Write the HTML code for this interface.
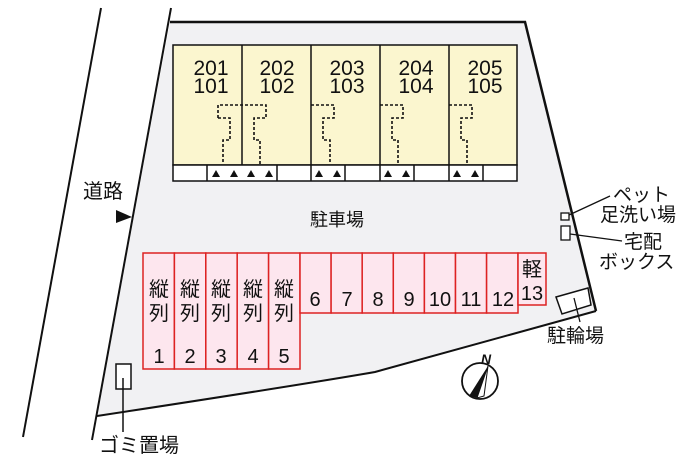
<!DOCTYPE html>
<html><head><meta charset="utf-8"><style>
html,body{margin:0;padding:0;background:#fff;width:700px;height:466px;overflow:hidden}
svg text{font-family:"Liberation Sans","Noto Sans CJK JP",sans-serif;fill:#111}
</style></head><body>
<svg width="700" height="466" viewBox="0 0 700 466" xmlns="http://www.w3.org/2000/svg">
<path d="M170,22 L525,22 L596,311 L375,372 Q300,385 97,416 Z" fill="#f1f1f3" stroke="none"/>
<path d="M170,22 L525,22 L596,311" fill="none" stroke="#111" stroke-width="2.5"/>
<path d="M596,311 L375,372 Q300,385 97,416" fill="none" stroke="#111" stroke-width="2"/>
<line x1="171" y1="8" x2="92" y2="440" stroke="#111" stroke-width="2"/>
<line x1="101" y1="8" x2="23" y2="437" stroke="#111" stroke-width="2"/>
<text x="83" y="198" font-size="20">道路</text>
<polygon points="116,210 132,217 116,223" fill="#111"/>
<rect x="173" y="45" width="344" height="120" fill="#fbf6cf" stroke="#111" stroke-width="1.5"/>
<rect x="173" y="165" width="344" height="16" fill="#fff" stroke="#111" stroke-width="1.5"/>
<g stroke="#111" stroke-width="1.5">
<line x1="242" y1="45" x2="242" y2="165"/><line x1="311" y1="45" x2="311" y2="165"/>
<line x1="380" y1="45" x2="380" y2="165"/><line x1="449" y1="45" x2="449" y2="165"/>
<line x1="207" y1="165" x2="207" y2="181"/><line x1="277" y1="165" x2="277" y2="181"/>
<line x1="311" y1="165" x2="311" y2="181"/><line x1="345" y1="165" x2="345" y2="181"/>
<line x1="380" y1="165" x2="380" y2="181"/><line x1="414" y1="165" x2="414" y2="181"/>
<line x1="449" y1="165" x2="449" y2="181"/><line x1="483" y1="165" x2="483" y2="181"/>
</g>
<g fill="#111">
<polygon points="212,177 216,170 220,177"/><polygon points="230,177 234,170 238,177"/>
<polygon points="247,177 251,170 255,177"/><polygon points="265,177 269,170 273,177"/>
<polygon points="315,177 319,170 323,177"/><polygon points="333,177 337,170 341,177"/>
<polygon points="384,177 388,170 392,177"/><polygon points="402,177 406,170 410,177"/>
<polygon points="453,177 457,170 461,177"/><polygon points="471,177 475,170 479,177"/>
</g>
<g font-size="21" text-anchor="middle">
<text x="211" y="75">201</text><text x="211" y="93">101</text>
<text x="277" y="75">202</text><text x="277" y="93">102</text>
<text x="347" y="75">203</text><text x="347" y="93">103</text>
<text x="416" y="75">204</text><text x="416" y="93">104</text>
<text x="485" y="75">205</text><text x="485" y="93">105</text>
</g>
<g fill="none" stroke="#111" stroke-width="1.6" stroke-dasharray="3,2">
<path d="M218,118 V105 H266 V118 H254 V140 H260 V164"/>
<path d="M218,118 H230 V140 H223 V164"/>
<path d="M311,105 H334 V118 H323 V140 H330 V164"/>
<path d="M380,105 H403 V118 H392 V140 H398 V164"/>
<path d="M449,105 H472 V118 H461 V140 H467 V164"/>
</g>
<text x="310" y="226" font-size="18">駐車場</text>
<g fill="#fde6ee" stroke="#d22" stroke-width="1.5">
<rect x="143" y="253" width="31.4" height="116"/><rect x="174.4" y="253" width="31.4" height="116"/>
<rect x="205.8" y="253" width="31.4" height="116"/><rect x="237.2" y="253" width="31.4" height="116"/>
<rect x="268.6" y="253" width="31.4" height="116"/>
<rect x="300" y="253" width="31.1" height="60"/><rect x="331.1" y="253" width="31.1" height="60"/>
<rect x="362.2" y="253" width="31.1" height="60"/><rect x="393.3" y="253" width="31.1" height="60"/>
<rect x="424.4" y="253" width="31.1" height="60"/><rect x="455.5" y="253" width="31.1" height="60"/>
<rect x="486.6" y="253" width="31.4" height="60"/>
<rect x="518" y="253" width="28" height="52"/>
</g>
<g font-size="20" text-anchor="middle">
<text x="159" y="296">縦</text><text x="159" y="320">列</text><text x="159" y="363">1</text>
<text x="190" y="296">縦</text><text x="190" y="320">列</text><text x="190" y="363">2</text>
<text x="221" y="296">縦</text><text x="221" y="320">列</text><text x="221" y="363">3</text>
<text x="253" y="296">縦</text><text x="253" y="320">列</text><text x="253" y="363">4</text>
<text x="284" y="296">縦</text><text x="284" y="320">列</text><text x="284" y="363">5</text>
<text x="315" y="306">6</text><text x="347" y="306">7</text><text x="378" y="306">8</text>
<text x="409" y="306">9</text><text x="440" y="306">10</text><text x="471" y="306">11</text>
<text x="503" y="306">12</text>
<text x="532" y="276">軽</text><text x="532" y="300">13</text>
</g>
<rect x="561" y="213" width="8" height="7" fill="#fff" stroke="#111" stroke-width="1.3"/>
<rect x="561" y="226" width="9" height="14" fill="#fff" stroke="#111" stroke-width="1.3"/>
<line x1="569" y1="215" x2="610" y2="196" stroke="#111" stroke-width="1.3"/>
<line x1="570" y1="234" x2="622" y2="241" stroke="#111" stroke-width="1.3"/>
<text x="613" y="201" font-size="19">ペット</text>
<text x="600" y="221" font-size="19">足洗い場</text>
<text x="624" y="248" font-size="19">宅配</text>
<text x="599" y="268" font-size="19">ボックス</text>
<polygon points="556,297 588,288 591,305 562,314" fill="#fff" stroke="#111" stroke-width="1.5"/>
<line x1="574" y1="298" x2="580" y2="322" stroke="#111" stroke-width="1.3"/>
<text x="547" y="342" font-size="19">駐輪場</text>
<rect x="116" y="364" width="15" height="25" fill="#fff" stroke="#111" stroke-width="1.5"/>
<line x1="123" y1="378" x2="123" y2="432" stroke="#111" stroke-width="1.5"/>
<text x="99" y="452" font-size="20">ゴミ置場</text>
<circle cx="480" cy="381" r="18" fill="#fff" stroke="#111" stroke-width="1.8"/>
<polygon points="488,366 469,396 477,398" fill="#111"/>
<polygon points="488,366 477,398 484,396" fill="#fff" stroke="#111" stroke-width="1"/>
<text x="481" y="364" font-size="14" font-style="italic" font-weight="bold">N</text>
</svg>
</body></html>
